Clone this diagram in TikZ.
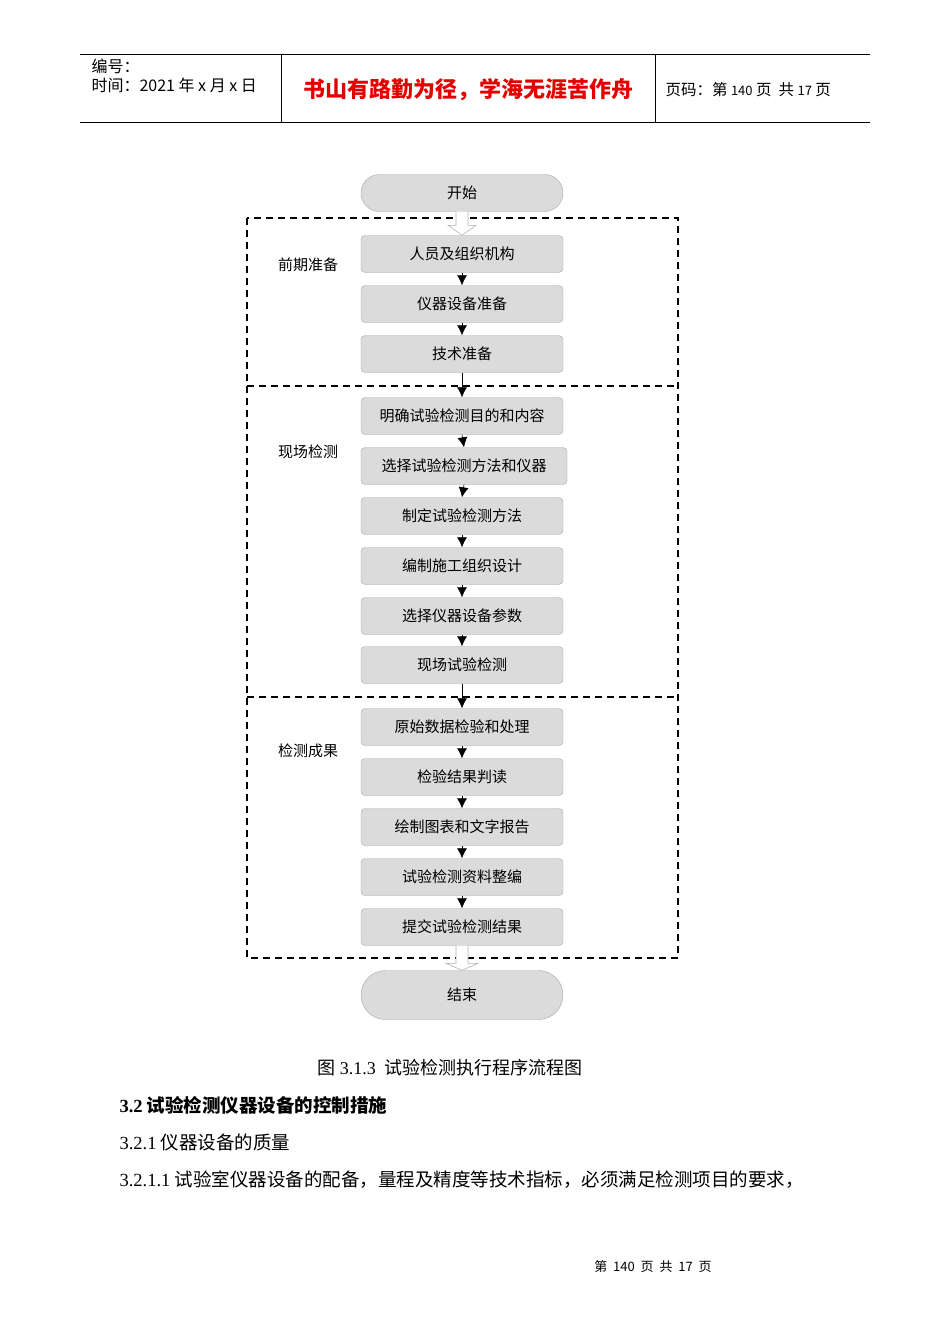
\documentclass[tikz,border=0pt]{standalone}
\usepackage{fontspec}
\setmainfont{Liberation Serif}
\newfontfamily\cjk{Noto Sans CJK SC}
\usetikzlibrary{shapes.misc,calc,arrows.meta}
\begin{document}
\begin{tikzpicture}[x=1pt,y=-1pt,
  box/.style={draw=gray!70, fill=gray!28, rounded corners=4pt, minimum width=202pt, minimum height=37pt, inner sep=0pt, font=\cjk\fontsize{15}{15}\selectfont},
  term/.style={draw=gray!70, fill=gray!28, rounded rectangle, minimum width=202pt, inner sep=0pt, font=\cjk\fontsize{15}{15}\selectfont},
  arr/.style={-{Latex[length=10pt,width=10pt]}, line width=0.6pt},
  region/.style={line width=1.6pt, dash pattern=on 7pt off 5pt},
  lbl/.style={font=\cjk\fontsize{15}{15}\selectfont},
  hollow/.style={draw=gray!60, fill=white, line width=0.6pt}]
\useasboundingbox (0,0) rectangle (950,1344);
% header
\draw[line width=0.8pt] (80,54) -- (870,54);
\draw[line width=0.8pt] (80,122) -- (870,122);
\draw[line width=0.6pt] (281,54) -- (281,122);
\draw[line width=0.6pt] (655,54) -- (655,122);
\node[anchor=west, font=\cjk\fontsize{16}{16}\selectfont] (h1) at (88,66) {编号：};
\node[anchor=west, font=\cjk\fontsize{16}{16}\selectfont] (h2) at (88,85) {时间：2021 年 x 月 x 日};
\node[font=\cjk\bfseries\fontsize{22}{22}\selectfont, text=red!90!black] (h3) at (468,90) {书山有路勤为径，学海无涯苦作舟};
\node[anchor=west, font=\cjk\fontsize{15.5}{15.5}\selectfont] (h4) at (662,90) {页码：第 {\fontsize{13}{13}\selectfont 140} 页\ \ 共 {\fontsize{13}{13}\selectfont 17} 页};
% regions
\draw[region] (247,218) rectangle (678,958);
\draw[region] (247,386) -- (678,386);
\draw[region] (247,697) -- (678,697);
\node[lbl] (l1) at (308,265) {前期准备};
\node[lbl] (l2) at (308,452) {现场检测};
\node[lbl] (l3) at (308,751) {检测成果};
% nodes
\node[term, minimum height=37pt] (s) at (462,193) {开始};
\node[box] (b1) at (462,254) {人员及组织机构};
\node[box] (b2) at (462,304) {仪器设备准备};
\node[box] (b3) at (462,354) {技术准备};
\node[box] (b4) at (462,416) {明确试验检测目的和内容};
\node[box, minimum width=206pt] (b5) at (464,466) {选择试验检测方法和仪器};
\node[box] (b6) at (462,516) {制定试验检测方法};
\node[box] (b7) at (462,566) {编制施工组织设计};
\node[box] (b8) at (462,616) {选择仪器设备参数};
\node[box] (b9) at (462,665) {现场试验检测};
\node[box] (b10) at (462,727) {原始数据检验和处理};
\node[box] (b11) at (462,777) {检验结果判读};
\node[box] (b12) at (462,827) {绘制图表和文字报告};
\node[box] (b13) at (462,877) {试验检测资料整编};
\node[box] (b14) at (462,927) {提交试验检测结果};
\node[term, minimum height=49pt] (e) at (462,995) {结束};
% arrows
\foreach \a/\b in {b1/b2,b2/b3,b3/b4,b4/b5,b5/b6,b6/b7,b7/b8,b8/b9,b9/b10,b10/b11,b11/b12,b12/b13,b13/b14}
  \draw[arr] (\a.south) -- (\b.north);
\draw[hollow] ($(s.south)+(-6,0)$) -- ($(b1.north)+(-6,-10)$) -- ($(b1.north)+(-14,-10)$) -- (b1.north) -- ($(b1.north)+(14,-10)$) -- ($(b1.north)+(6,-10)$) -- ($(s.south)+(6,0)$);
\draw[hollow] ($(b14.south)+(-6,0)$) -- ($(e.north)+(-6,-7)$) -- ($(e.north)+(-16,-7)$) -- (e.north) -- ($(e.north)+(16,-7)$) -- ($(e.north)+(6,-7)$) -- ($(b14.south)+(6,0)$);
% text
\node[font=\cjk\fontsize{18}{18}\selectfont] (cap) at (450,1068) {图 {\rmfamily 3.1.3}\ \ 试验检测执行程序流程图};
\node[anchor=west, font=\cjk\bfseries\fontsize{18.5}{18.5}\selectfont] (t1) at (116,1105) {{\rmfamily\bfseries 3.2} 试验检测仪器设备的控制措施};
\node[anchor=west, font=\cjk\fontsize{18.5}{18.5}\selectfont] (t2) at (116,1142) {{\rmfamily 3.2.1} 仪器设备的质量};
\node[anchor=west, font=\cjk\fontsize{18.5}{18.5}\selectfont] (t3) at (116,1180) {{\rmfamily 3.2.1.1} 试验室仪器设备的配备，量程及精度等技术指标，必须满足检测项目的要求，};
\node[font=\cjk\fontsize{13}{13}\selectfont] (f) at (653,1267) {第\ \ 140\ \ 页\ \ 共\ \ 17\ \ 页};
\end{tikzpicture}
\end{document}
